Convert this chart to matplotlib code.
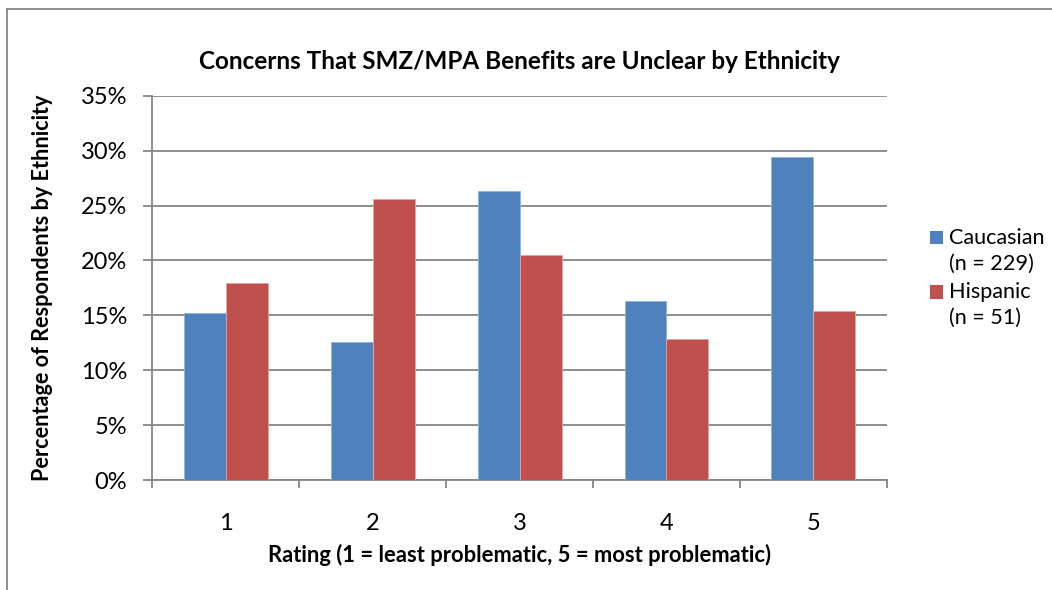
import numpy as np
import matplotlib
matplotlib.use("Agg")
import matplotlib.pyplot as plt
from matplotlib.lines import Line2D
from matplotlib.patches import Rectangle
from matplotlib.container import BarContainer
from matplotlib.legend_handler import HandlerPatch, update_from_first_child
from matplotlib.ticker import FuncFormatter, FixedLocator

plt.rcParams['font.family'] = ['Lato', 'DejaVu Sans']

# Datos
ratings = ['1', '2', '3', '4', '5']
caucasian = [15.2, 12.6, 26.3, 16.3, 29.4]
hispanic = [17.9, 25.6, 20.5, 12.8, 15.4]
labels = ['Caucasian\n(n = 229)', 'Hispanic\n(n = 51)']

azul = '#4f81bd'
rojo = '#c0504d'
gris = '#868686'

fig = plt.figure(figsize=(10.52, 5.9), dpi=100)
ax = fig.add_axes([0.1448, 0.1864, 0.6982, 0.6514])

x = np.arange(len(ratings))
w = 1 / 3.5
ax.bar(x - w / 2, caucasian, w, color=azul, edgecolor='#95b3d7', linewidth=0.6,
       label=labels[0], zorder=3)
ax.bar(x + w / 2, hispanic, w, color=rojo, edgecolor='#e6a4a3', linewidth=0.6,
       label=labels[1], zorder=3)

ax.set_xlim(-0.5, 4.5)
ax.set_ylim(0, 35)
ax.set_yticks(np.arange(0, 36, 5))
ax.yaxis.set_major_formatter(FuncFormatter(lambda v, p: f'{v:.0f}%'))
ax.yaxis.grid(True, color=gris, linewidth=1.3, zorder=0)

# Ticks del eje x entre categorias, etiquetas centradas
ax.set_xticks(x)
ax.set_xticklabels(ratings)
ax.xaxis.set_minor_locator(FixedLocator(np.arange(-0.5, 5, 1)))
ax.tick_params(axis='x', which='major', length=0, pad=24, labelsize=17)
ax.tick_params(axis='x', which='minor', length=6, width=1.3, color=gris, direction='out')
ax.tick_params(axis='y', length=6.5, width=1.3, color=gris, labelsize=17, pad=11.5)

for s in ['top', 'right']:
    ax.spines[s].set_visible(False)
for s in ['left', 'bottom']:
    ax.spines[s].set_color(gris)
    ax.spines[s].set_linewidth(1.3)

ax.set_title('Concerns That SMZ/MPA Benefits are Unclear by Ethnicity',
             fontsize=17.5, fontweight='bold', pad=19)
ax.set_xlabel('Rating (1 = least problematic, 5 = most problematic)',
              fontsize=15.8, fontweight='bold', labelpad=7)
ax.set_ylabel('Percentage of Respondents by Ethnicity', fontsize=15.6,
              fontweight='bold', labelpad=20)


# Cuadro de la leyenda alineado con la primera linea del texto
def cuadro(legend, orig_handle, xdescent, ydescent, width, height, fontsize):
    return Rectangle((-xdescent, -ydescent + 0.62 * fontsize), width, height)


leg = ax.legend(loc='center left', bbox_to_anchor=(1.032, 0.526), frameon=False,
                fontsize=15.6, handlelength=0.6, handleheight=0.55,
                handletextpad=0.3, labelspacing=0.4,
                handler_map={BarContainer: HandlerPatch(patch_func=cuadro,
                                                        update_func=update_from_first_child)})
for h in leg.legend_handles:
    h.set_edgecolor('none')
for t in leg.get_texts():
    t.set_linespacing(1.36)

# Borde del grafico
fig.add_artist(Line2D([7 / 1052, 7 / 1052], [0, 1 - 8.5 / 590],
                      transform=fig.transFigure, color=gris, linewidth=1.3))
fig.add_artist(Line2D([7 / 1052, 1], [1 - 8.5 / 590, 1 - 8.5 / 590],
                      transform=fig.transFigure, color=gris, linewidth=1.3))

fig.savefig('out.png', dpi=100)
